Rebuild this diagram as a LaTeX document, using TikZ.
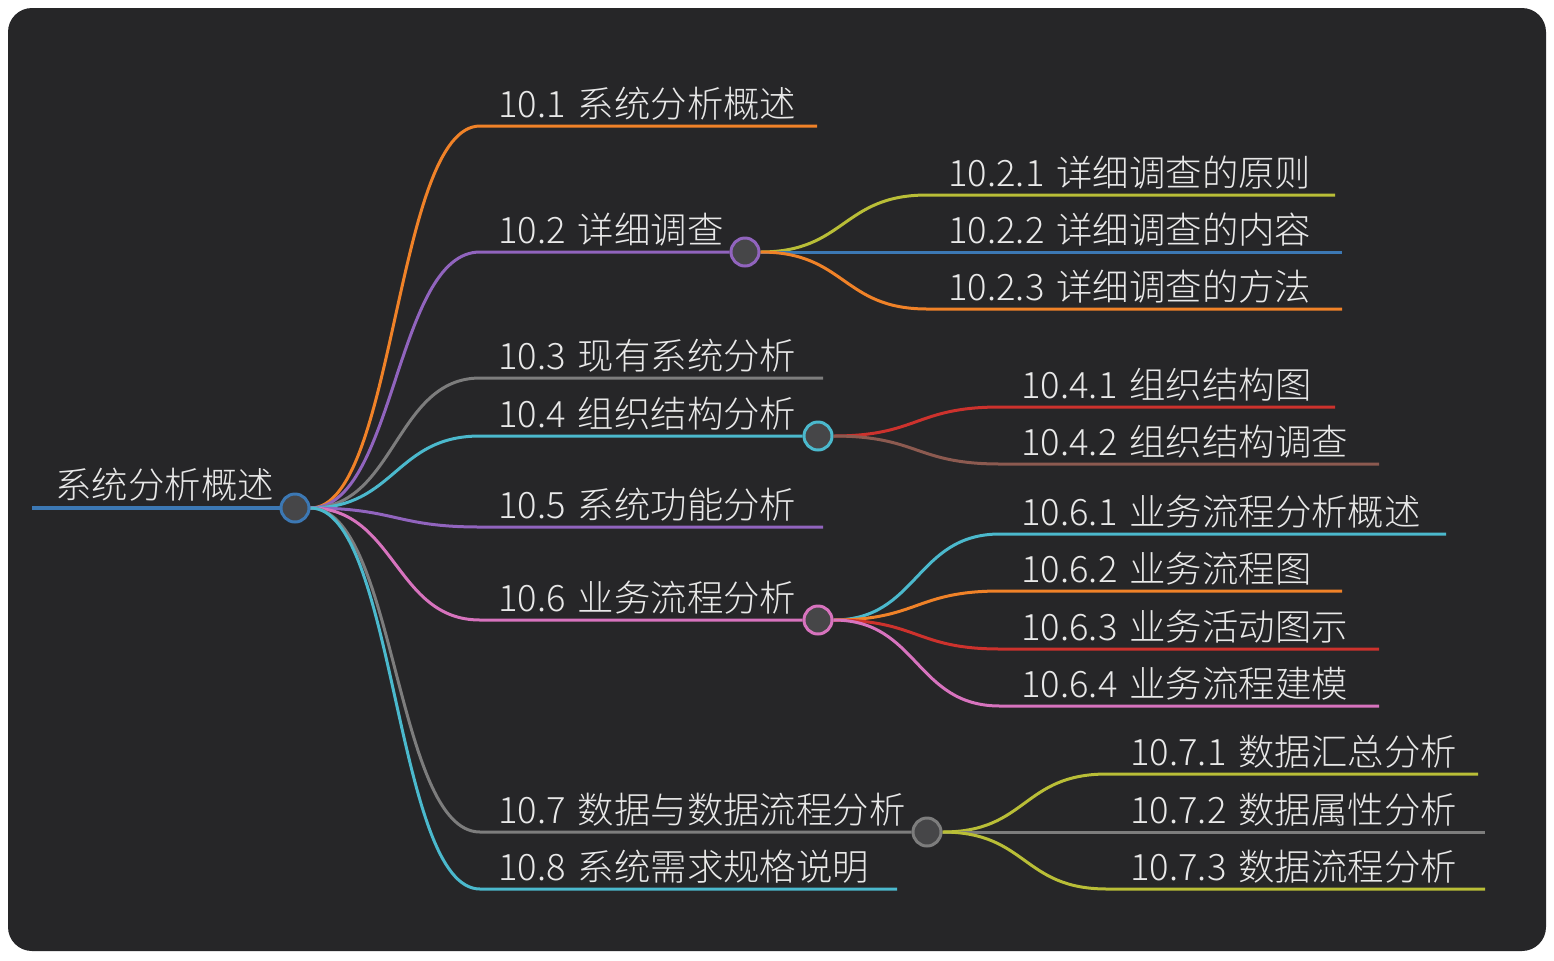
\documentclass[tikz,border=0pt]{standalone}
\usepackage{fontspec}
\setmainfont{Noto Sans CJK SC}[UprightFont={* Light}, WordSpace=1.5]
\usetikzlibrary{positioning,backgrounds}
\pgfdeclarelayer{front}
\pgfsetlayers{background,main,front}

\definecolor{bgdark}{RGB}{38,38,40}
\definecolor{hubfill}{RGB}{70,70,72}
\definecolor{txtgray}{RGB}{232,232,232}
\definecolor{mmblue}{RGB}{60,120,180}
\definecolor{mmorange}{RGB}{240,130,40}
\definecolor{mmpurple}{RGB}{145,100,190}
\definecolor{mmgray}{RGB}{125,125,125}
\definecolor{mmcyan}{RGB}{75,185,205}
\definecolor{mmpink}{RGB}{215,115,190}
\definecolor{mmred}{RGB}{205,50,45}
\definecolor{mmbrown}{RGB}{140,90,80}
\definecolor{mmolive}{RGB}{185,190,55}

\begin{document}
\begin{tikzpicture}[x=0.5pt, y=-0.5pt,
    txt/.style={anchor=base west, text=txtgray, font=\fontsize{18.2}{22}\selectfont, inner sep=0pt},
    hub/.style={circle, draw=#1, line width=1.5pt, fill=hubfill, minimum size=14pt, inner sep=0pt},
    branch/.style={line width=1.5pt, to path={.. controls +(85,0) and +(-85,0) .. (\tikztotarget)}}]

    \useasboundingbox (0,0) rectangle (1554,960);

    % Background
    \begin{pgfonlayer}{background}
        \fill[white] (0,0) rectangle (1554,960);
        \fill[bgdark, rounded corners=12pt] (8,8) rectangle (1546,951);
    \end{pgfonlayer}

    % Hub circles (on top of the links)
    \begin{pgfonlayer}{front}
        \node[hub=mmblue] (root) at (295,508) {};
        \node[hub=mmpurple] (c2) at (745,252) {};
        \node[hub=mmcyan] (c4) at (818,436) {};
        \node[hub=mmpink] (c6) at (818,620) {};
        \node[hub=mmgray] (c7) at (927,832) {};
    \end{pgfonlayer}

    % Root
    \node[txt] (roottxt) at (55,498) {系统分析概述};
    \coordinate (rs) at (32,508);
    \draw[mmblue, line width=2pt] (rs) -- (root);

    % Level 1 labels
    \node[txt] (t1) at (498,117) {10.1 系统分析概述};
    \node[txt] (t2) at (498,243) {10.2 详细调查};
    \node[txt] (t3) at (498,369) {10.3 现有系统分析};
    \node[txt] (t4) at (498,427) {10.4 组织结构分析};
    \node[txt] (t5) at (498,518) {10.5 系统功能分析};
    \node[txt] (t6) at (498,611) {10.6 业务流程分析};
    \node[txt] (t7) at (498,823) {10.7 数据与数据流程分析};
    \node[txt] (t8) at (498,880) {10.8 系统需求规格说明};

    % Level 1 line ends
    \coordinate (s1) at (480,126); \coordinate (e1) at (817,126);
    \coordinate (s2) at (480,252);
    \coordinate (s3) at (480,378); \coordinate (e3) at (823,378);
    \coordinate (s4) at (480,436);
    \coordinate (s5) at (480,527); \coordinate (e5) at (823,527);
    \coordinate (s6) at (480,620);
    \coordinate (s7) at (480,832);
    \coordinate (s8) at (480,889); \coordinate (e8) at (897,889);

    % Level 1 links
    \draw[branch, mmorange] (root.east) to (s1) -- (e1);
    \draw[branch, mmpurple] (root.east) to (s2) -- (c2);
    \draw[branch, mmgray] (root.east) to (s3) -- (e3);
    \draw[branch, mmcyan] (root.east) to (s4) -- (c4);
    \draw[branch, mmpurple] (root.east) to (s5) -- (e5);
    \draw[branch, mmpink] (root.east) to (s6) -- (c6);
    \draw[branch, mmgray] (root.east) to (s7) -- (c7);
    \draw[branch, mmcyan] (root.east) to (s8) -- (e8);

    % 10.2 children
    \node[txt] (t21) at (948,186) {10.2.1 详细调查的原则};
    \node[txt] (t22) at (948,243) {10.2.2 详细调查的内容};
    \node[txt] (t23) at (948,300) {10.2.3 详细调查的方法};
    \coordinate (s21) at (927,195); \coordinate (e21) at (1335,195);
    \coordinate (s22) at (927,252); \coordinate (e22) at (1342,252);
    \coordinate (s23) at (927,309); \coordinate (e23) at (1342,309);
    \draw[branch, mmolive] (c2.east) to (s21) -- (e21);
    \draw[branch, mmblue] (c2.east) to (s22) -- (e22);
    \draw[branch, mmorange] (c2.east) to (s23) -- (e23);

    % 10.4 children
    \node[txt] (t41) at (1021,398) {10.4.1 组织结构图};
    \node[txt] (t42) at (1021,455) {10.4.2 组织结构调查};
    \coordinate (s41) at (1000,407); \coordinate (e41) at (1335,407);
    \coordinate (s42) at (1000,464); \coordinate (e42) at (1379,464);
    \draw[branch, mmred] (c4.east) to (s41) -- (e41);
    \draw[branch, mmbrown] (c4.east) to (s42) -- (e42);

    % 10.6 children
    \node[txt] (t61) at (1021,525) {10.6.1 业务流程分析概述};
    \node[txt] (t62) at (1021,582) {10.6.2 业务流程图};
    \node[txt] (t63) at (1021,640) {10.6.3 业务活动图示};
    \node[txt] (t64) at (1021,697) {10.6.4 业务流程建模};
    \coordinate (s61) at (1000,534); \coordinate (e61) at (1446,534);
    \coordinate (s62) at (1000,591); \coordinate (e62) at (1342,591);
    \coordinate (s63) at (1000,649); \coordinate (e63) at (1379,649);
    \coordinate (s64) at (1000,706); \coordinate (e64) at (1379,706);
    \draw[branch, mmcyan] (c6.east) to (s61) -- (e61);
    \draw[branch, mmorange] (c6.east) to (s62) -- (e62);
    \draw[branch, mmred] (c6.east) to (s63) -- (e63);
    \draw[branch, mmpink] (c6.east) to (s64) -- (e64);

    % 10.7 children
    \node[txt] (t71) at (1130,765) {10.7.1 数据汇总分析};
    \node[txt] (t72) at (1130,823) {10.7.2 数据属性分析};
    \node[txt] (t73) at (1130,880) {10.7.3 数据流程分析};
    \coordinate (s71) at (1107,774); \coordinate (e71) at (1478,774);
    \coordinate (s72) at (1107,832); \coordinate (e72) at (1485,832);
    \coordinate (s73) at (1107,889); \coordinate (e73) at (1485,889);
    \draw[branch, mmolive] (c7.east) to (s71) -- (e71);
    \draw[branch, mmgray] (c7.east) to (s72) -- (e72);
    \draw[branch, mmolive] (c7.east) to (s73) -- (e73);

\end{tikzpicture}
\end{document}
